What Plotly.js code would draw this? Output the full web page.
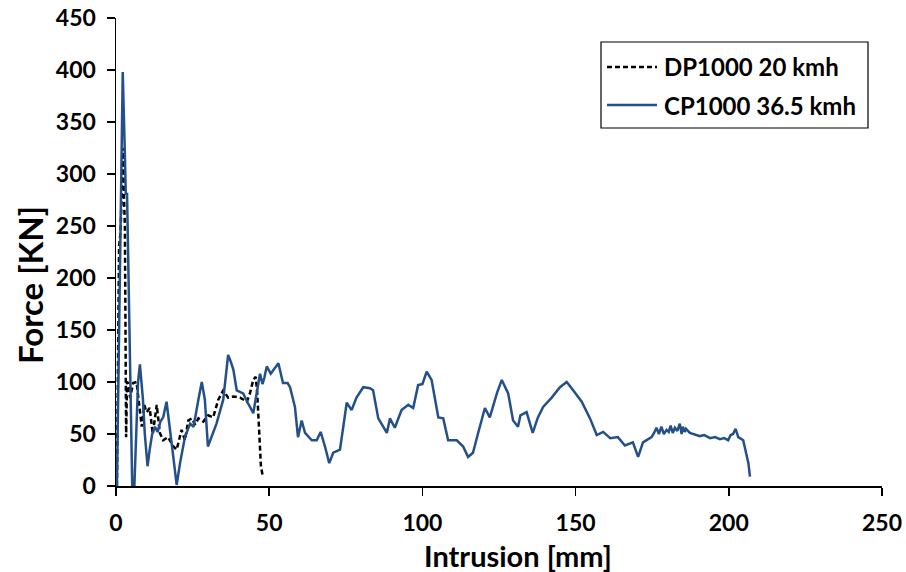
<!DOCTYPE html>
<html><head><meta charset="utf-8">
<script src="https://cdn.plot.ly/plotly-3.0.1.min.js"></script>
<style>html,body{margin:0;padding:0;background:#fff}#chart{width:906px;height:572px}</style>
</head><body><div id="chart"></div>
<script>
var seriesNames=['DP1000 20 kmh','CP1000 36.5 kmh'];
var dpX=[0.3,0.6,1.0,1.5,2.0,2.3,2.6,2.9,3.1,3.3,3.6,4.0,4.6,5.6,6.7,7.4,8.4,9.2,10,11,12.0,13.3,14.3,15.4,17,18.7,19.8,21.4,22.5,23.6,24.7,25.8,26.9,28.5,30.1,31.7,33.4,35,36.6,38.3,40.5,42.7,43.7,44.8,45.6,46.1,46.8,47.3,47.8];
var dpY=[0,120,230,245,290,325,280,249,150,47,100,99,85,99,100,80,57,78,71,75,50,78,51,44,47,38,35,54,44,63,65,59,65,62,68,66,83,92,85,86,85,81,89,102,105,89,44,19,11];
var cpX=[0.3,1.2,2.2,2.8,3.2,3.6,4.2,4.8,5.3,6.0,6.6,7.2,7.8,8.4,8.8,9.4,10.3,11.0,11.8,12.7,13.6,14.5,15.4,16.5,17.6,18.7,19.8,20.9,22.5,24.2,25.3,26.2,27.2,28,29,30,31.2,32.8,35,36.6,37.4,38.3,39.4,41.5,43,44.8,45.9,47,47.8,48.4,49.2,50.5,51.5,53,54.5,56,56.8,57.8,58.4,59.4,60.6,61.7,62.8,63.9,65.5,66.8,68.2,69.6,70.9,73.1,75.3,76.9,78.5,80.7,82.9,83.9,85.6,88.4,89.4,91,93.2,95.4,97,98.6,100,101.4,103,105.2,106.8,108.4,111.2,113.3,114.9,116.5,118.2,120.4,122,124.3,125.9,128,129.6,131.2,132,134,136,137.7,139.4,142.2,144.9,147.1,149.2,152,154.7,156.9,159,161.3,163.8,166.1,168.7,170.4,172,174.8,175.6,176.4,177.2,178,178.8,179.7,180.4,181,181.7,182.4,183.2,184,184.6,185,185.6,186,187.3,188.5,190.6,192,193.9,195.5,197.1,198.5,199.8,200.6,201.4,202.2,203.1,204.7,206.4,206.9];
var cpY=[0,200,398,330,280,282,180,60,0,0,60,100,117,95,83,50,19,35,50,57,52,62,66,81,57,28,1,22,47,60,57,70,88,100,83,38,47,60,83,126,120,112,92,89,80,70,89,108,98,104,115,108,112,118,99,99,95,83,76,47,63,51,47,44,44,52,38,22,32,35,80,73,85,95,94,92,65,51,65,56,73,78,75,97,98,110,102,66,65,44,44,38,28,32,51,75,66,89,102,89,63,57,68,71,51,66,76,85,95,100,92,81,65,49,52,46,47,39,42,28,42,47,51,56,50,57,50,54,52,58,51,56,53,60,50,57,52,55,51,50,48,49,46,47,45,46,44,49,50,55,47,44,22,9,1];
var xTicks=[0,50,100,150,200,250];
var yTicks=[0,50,100,150,200,250,300,350,400,450];
var FONT='Lato, Open Sans, sans-serif';
var BLUE='#24508A';
var traces=[
 {x:dpX,y:dpY,type:'scatter',mode:'lines',name:seriesNames[0],showlegend:false,line:{color:'#000000',width:2.5,dash:'5px,3px'}},
 {x:cpX,y:cpY,type:'scatter',mode:'lines',name:seriesNames[1],showlegend:false,line:{color:BLUE,width:2.5}}
];
var ax={showgrid:false,zeroline:false,showline:true,linecolor:'#000',linewidth:1.5,ticks:'outside',ticklen:8,tickcolor:'#000',tickwidth:1.5,tickfont:{family:FONT,size:23,color:'#000',weight:'bold'}};
function px(v){return (v-116)/766;} function py(v){return (486-v)/468;}
var layout={
 width:906,height:572,margin:{l:116,r:24,t:18,b:86},paper_bgcolor:'#fff',plot_bgcolor:'#fff',
 xaxis:Object.assign({},ax,{range:[0,250],tickvals:xTicks,ticktext:xTicks.map(String),ticklabelstandoff:8}),
 yaxis:Object.assign({},ax,{range:[0,450],tickvals:yTicks,ticktext:yTicks.map(String),ticklabelstandoff:6}),
 showlegend:false,
 shapes:[
  {type:'rect',xref:'paper',yref:'paper',x0:px(601),x1:px(868),y0:py(128),y1:py(42),line:{color:'#000',width:1.2},fillcolor:'#fff'},
  {type:'line',xref:'paper',yref:'paper',x0:px(607),x1:px(657),y0:py(67),y1:py(67),line:{color:'#000',width:2.5,dash:'5px,3px'}},
  {type:'line',xref:'paper',yref:'paper',x0:px(607),x1:px(657),y0:py(105),y1:py(105),line:{color:BLUE,width:2.5}}
 ],
 annotations:[
  {xref:'paper',yref:'paper',x:px(662),y:py(67),xanchor:'left',yanchor:'middle',showarrow:false,text:'<b>'+seriesNames[0]+'</b>',font:{family:FONT,size:24,color:'#000'}},
  {xref:'paper',yref:'paper',x:px(662),y:py(105),xanchor:'left',yanchor:'middle',showarrow:false,text:'<b>'+seriesNames[1]+'</b>',font:{family:FONT,size:24,color:'#000'}},
  {xref:'paper',yref:'paper',x:px(518),y:py(555),xanchor:'center',yanchor:'middle',showarrow:false,text:'<b>Intrusion [mm]</b>',font:{family:FONT,size:29,color:'#000'}},
  {xref:'paper',yref:'paper',x:px(30),y:py(285),xanchor:'center',yanchor:'middle',showarrow:false,textangle:-90,text:'<b>Force [KN]</b>',font:{family:FONT,size:33,color:'#000'}}
 ]
};
Plotly.newPlot('chart',traces,layout,{staticPlot:true});
</script></body></html>
